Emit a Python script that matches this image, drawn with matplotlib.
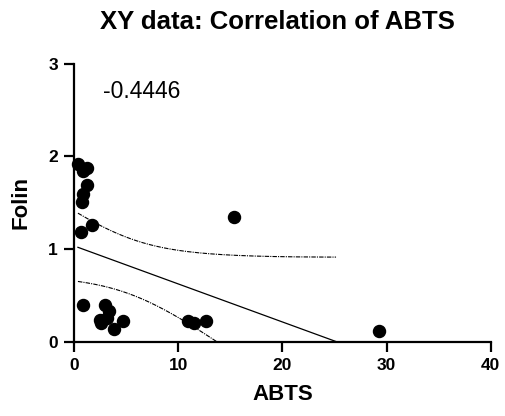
import numpy as np
import matplotlib
matplotlib.use("Agg")
import matplotlib.pyplot as plt

plt.rcParams['font.family'] = ['Liberation Sans', 'DejaVu Sans']

# data
abts = [0.38, 0.83, 1.27, 1.22, 0.89, 0.74, 0.64, 1.76, 0.89, 2.98, 3.39,
        2.50, 2.55, 3.14, 3.87, 4.73, 10.97, 11.55, 12.64, 15.33, 29.30]
folin = [1.92, 1.84, 1.88, 1.69, 1.60, 1.51, 1.18, 1.26, 0.39, 0.39, 0.33,
         0.23, 0.20, 0.25, 0.14, 0.22, 0.22, 0.20, 0.22, 1.35, 0.11]
r_label = "-0.4446"
x_ticks = [0, 10, 20, 30, 40]
y_ticks = [0, 1, 2, 3]

x = np.array(abts)
y = np.array(folin)
n = len(x)

# linear fit with 95% confidence band
slope, intercept = np.polyfit(x, y, 1)
resid = y - (slope * x + intercept)
s = np.sqrt(np.sum(resid ** 2) / (n - 2))
t_crit = 2.093  # t(0.975, df=19)
x_end = min(x.max(), -intercept / slope)
xs = np.linspace(x.min(), x_end, 200)
fit = slope * xs + intercept
se = s * np.sqrt(1 / n + (xs - x.mean()) ** 2 / np.sum((x - x.mean()) ** 2))

fig = plt.figure(figsize=(5.06, 4.16), dpi=100)
ax = fig.add_axes([0.1462, 0.179, 0.8236, 0.6672])

ax.plot(xs, fit, color='black', lw=0.9)
ax.plot(xs, fit + t_crit * se, color='black', lw=0.8, ls=(0, (4, 1, 1, 1)))
ax.plot(xs, fit - t_crit * se, color='black', lw=0.8, ls=(0, (4, 1, 1, 1)))
ax.scatter(x, y, s=75, color='black', zorder=3, clip_on=False)

ax.set_xlim(0, 40)
ax.set_ylim(0, 3)
ax.set_xticks(x_ticks)
ax.set_yticks(y_ticks)
for sp in ['top', 'right']:
    ax.spines[sp].set_visible(False)
for sp in ['left', 'bottom']:
    ax.spines[sp].set_linewidth(1.6)
ax.tick_params(length=7.5, width=1.6, labelsize=12.5, pad=4)
for lab in ax.get_xticklabels() + ax.get_yticklabels():
    lab.set_fontweight('bold')

ax.set_xlabel('ABTS', fontsize=16, fontweight='bold', labelpad=8)
ax.set_ylabel('Folin', fontsize=16, fontweight='bold', labelpad=12)
ax.text(2.8, 2.70, r_label, fontsize=16.5, va='center', ha='left')

fig.text(277 / 506, 1 - 22 / 416, 'XY data: Correlation of ABTS',
         fontsize=18.5, fontweight='bold', ha='center', va='center')

fig.savefig('out.png', dpi=100)
